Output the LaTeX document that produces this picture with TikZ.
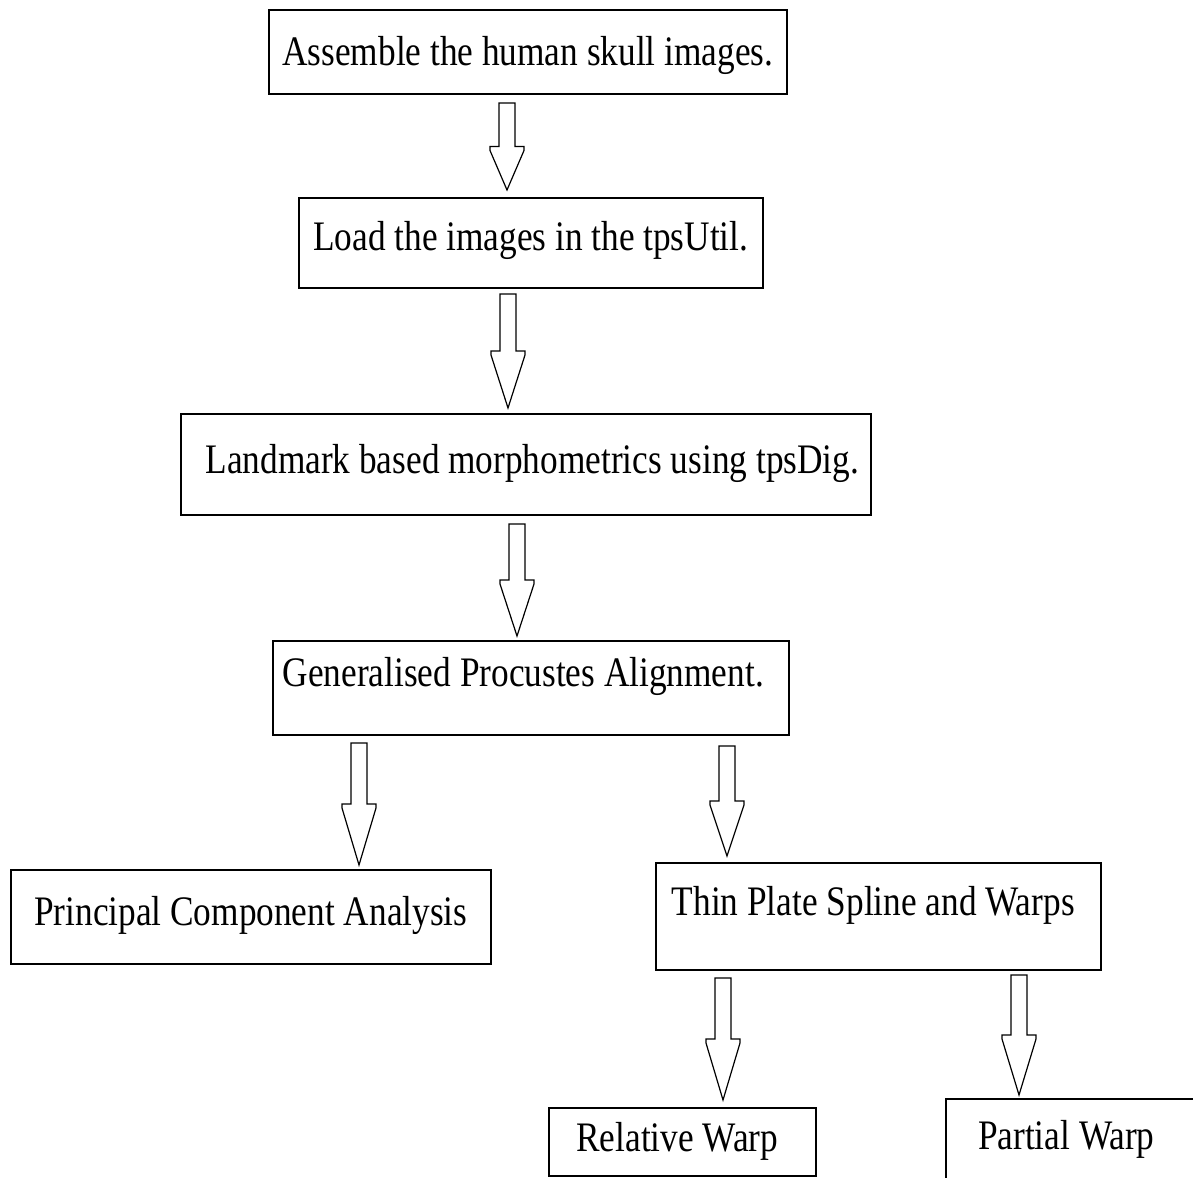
\documentclass[tikz,border=0pt]{standalone}
\usepackage{fontspec}
\setmainfont[FakeStretch=0.84]{Liberation Serif}
\usetikzlibrary{calc}

\tikzset{
  stepbox/.style={draw, line width=1.6pt, anchor=north west, inner sep=0pt,
    font=\fontsize{42}{50}\selectfont},
  hollow/.style={draw, line width=1.2pt, line join=miter,
    to path={let \p1=(\tikztostart), \p2=(\tikztotarget) in
      (\x1-8pt,\y1) -- (\x1+8pt,\y1) -- (\x1+8pt,{(\y1+\y2)/2})
      -- (\x1+17pt,{(\y1+\y2)/2}) -- (\x1+17pt,{(\y1+\y2)/2-4pt})
      -- (\x2,\y2)
      -- (\x1-17pt,{(\y1+\y2)/2-4pt}) -- (\x1-17pt,{(\y1+\y2)/2})
      -- (\x1-8pt,{(\y1+\y2)/2}) -- cycle}}
}

\begin{document}
\begin{tikzpicture}[x=1pt,y=-1pt]
  \useasboundingbox[fill=white] (0,0) rectangle (1193,1177);

  % Boxes
  \node[stepbox, minimum width=518pt, text height=56pt, text depth=28pt] (assemble) at (268,9) {Assemble the human skull images.};
  \node[stepbox, minimum width=464pt, text height=53pt, text depth=37pt] (load) at (298,197) {Load the images in the tpsUtil.};
  \node[stepbox, minimum width=690pt, text height=60pt, text depth=41pt] (landmark) at (180,413) {\hspace*{13pt}Landmark based morphometrics using tpsDig.};
  \node[stepbox, minimum width=516pt, text height=46pt, text depth=48pt] (gpa) at (272,640) {Generalised Procustes Alignment.\hspace*{15pt}};
  \node[stepbox, minimum width=480pt, text height=56pt, text depth=38pt] (pca) at (10,869) {Principal Component Analysis};
  \node[stepbox, minimum width=445pt, text height=53pt, text depth=54pt] (tps) at (655,862) {Thin Plate Spline and Warps\hspace*{10pt}};
  \node[stepbox, minimum width=267pt, text height=44pt, text depth=24pt] (relwarp) at (548,1107) {Relative Warp\hspace*{10pt}};
  \node[stepbox, draw=none, minimum width=247pt, text height=50pt, text depth=28pt] (partwarp) at (946,1099) {Partial Warp\hspace*{8pt}};
  % box runs off the page: only its top and left sides show
  \draw[line width=1.6pt] (partwarp.north east) -- (partwarp.north west) -- (partwarp.south west);

  % Arrow ends
  \coordinate (a1) at (507,103);  \coordinate (a1t) at (507,190);
  \coordinate (a2) at (508,294);  \coordinate (a2t) at (508,408);
  \coordinate (a3) at (517,524);  \coordinate (a3t) at (517,636);
  \coordinate (a4) at (359,743);  \coordinate (a4t) at (359,865);
  \coordinate (a5) at (727,746);  \coordinate (a5t) at (727,856);
  \coordinate (a6) at (723,978);  \coordinate (a6t) at (723,1100);
  \coordinate (a7) at (1019,975); \coordinate (a7t) at (1019,1095);

  % Block arrows
  \draw[hollow] (a1) to (a1t);
  \draw[hollow] (a2) to (a2t);
  \draw[hollow] (a3) to (a3t);
  \draw[hollow] (a4) to (a4t);
  \draw[hollow] (a5) to (a5t);
  \draw[hollow] (a6) to (a6t);
  \draw[hollow] (a7) to (a7t);
\end{tikzpicture}
\end{document}
